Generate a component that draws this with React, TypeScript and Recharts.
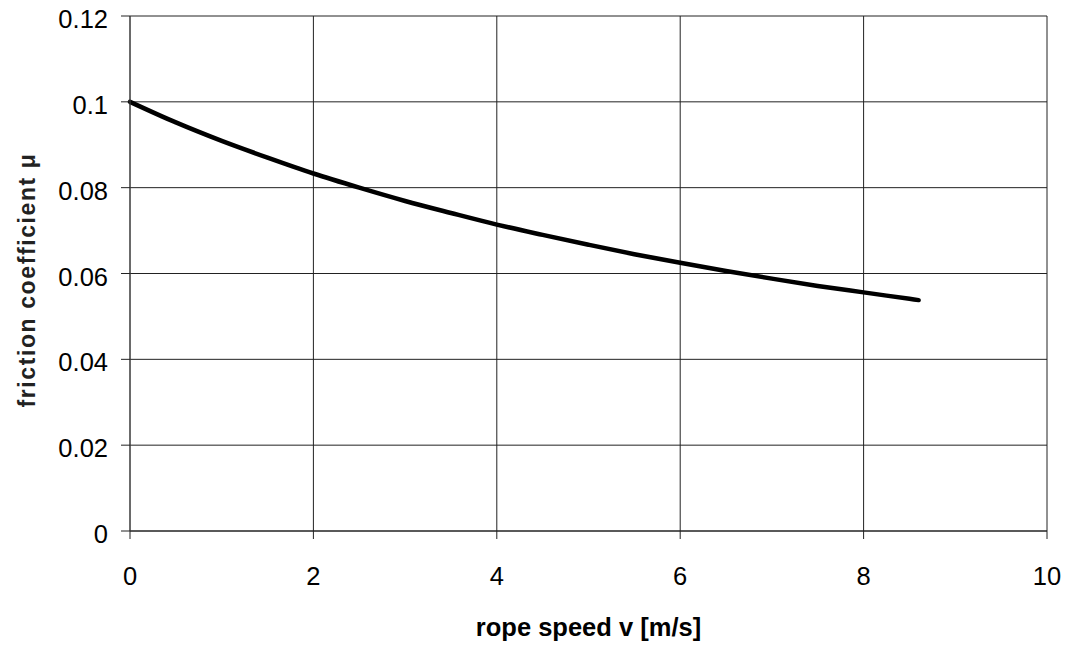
import React from 'react';
import { LineChart, Line, XAxis, YAxis, CartesianGrid } from 'recharts';

const speeds = [0, 0.5, 1, 1.5, 2, 2.5, 3, 3.5, 4, 4.5, 5, 5.5, 6, 6.5, 7, 7.5, 8, 8.5, 8.6];
const friction = [0.1, 0.0952, 0.0909, 0.087, 0.0833, 0.08, 0.0769, 0.0741, 0.0714, 0.069, 0.0667, 0.0645, 0.0625, 0.0606, 0.0588, 0.0571, 0.0556, 0.0541, 0.0538];
const xTicks = [0, 2, 4, 6, 8, 10];
const yTicks = [0, 0.02, 0.04, 0.06, 0.08, 0.1, 0.12];

const data = speeds.map((v, i) => ({ v, mu: friction[i] }));

const FONT = 'Arial, "Liberation Sans", Helvetica, sans-serif';

const YTitle = () => {
  const cy = 280;
  const x = 35;
  return (
    <text
      x={x}
      y={cy}
      transform={`rotate(-90, ${x}, ${cy})`}
      textAnchor="middle"
      fontFamily={FONT}
      fontWeight="bold"
      fontSize={23}
      letterSpacing={1.6}
      fill="#222"
    >
      friction coefficient μ
    </text>
  );
};

const XTitle = (props: any) => {
  const vb = props.viewBox || {};
  const cx = vb.x + vb.width / 2;
  return (
    <text x={cx} y={636} textAnchor="middle" fontFamily={FONT} fontWeight="bold" fontSize={25.5} fill="#000">
      rope speed v [m/s]
    </text>
  );
};

export default function App() {
  return (
    <div style={{ position: 'absolute', left: 0, top: 0, background: '#fff' }}>
      <LineChart width={1069} height={655} data={data} margin={{ top: 16, right: 22, left: 0, bottom: 0 }}>
        <CartesianGrid stroke="#222" strokeWidth={1} />
        <XAxis
          dataKey="v"
          type="number"
          domain={[0, 10]}
          ticks={xTicks}
          height={124}
          tickSize={8}
          tickMargin={28}
          axisLine={{ stroke: '#222' }}
          tickLine={{ stroke: '#222' }}
          tick={{ fill: '#000', fontSize: 25.5, fontFamily: FONT }}
          interval={0}
          label={<XTitle />}
        />
        <YAxis
          type="number"
          domain={[0, 0.12]}
          ticks={yTicks}
          width={130}
          tickSize={9}
          tickMargin={13}
          axisLine={{ stroke: '#444' }}
          tickLine={{ stroke: '#222' }}
          tick={{ fill: '#000', fontSize: 25.5, fontFamily: FONT, dy: 3 }}
          interval={0}
          label={<YTitle />}
        />
        <Line
          type="monotone"
          dataKey="mu"
          stroke="#000"
          strokeWidth={4.5}
          strokeLinecap="round"
          dot={false}
          isAnimationActive={false}
        />
      </LineChart>
    </div>
  );
}
